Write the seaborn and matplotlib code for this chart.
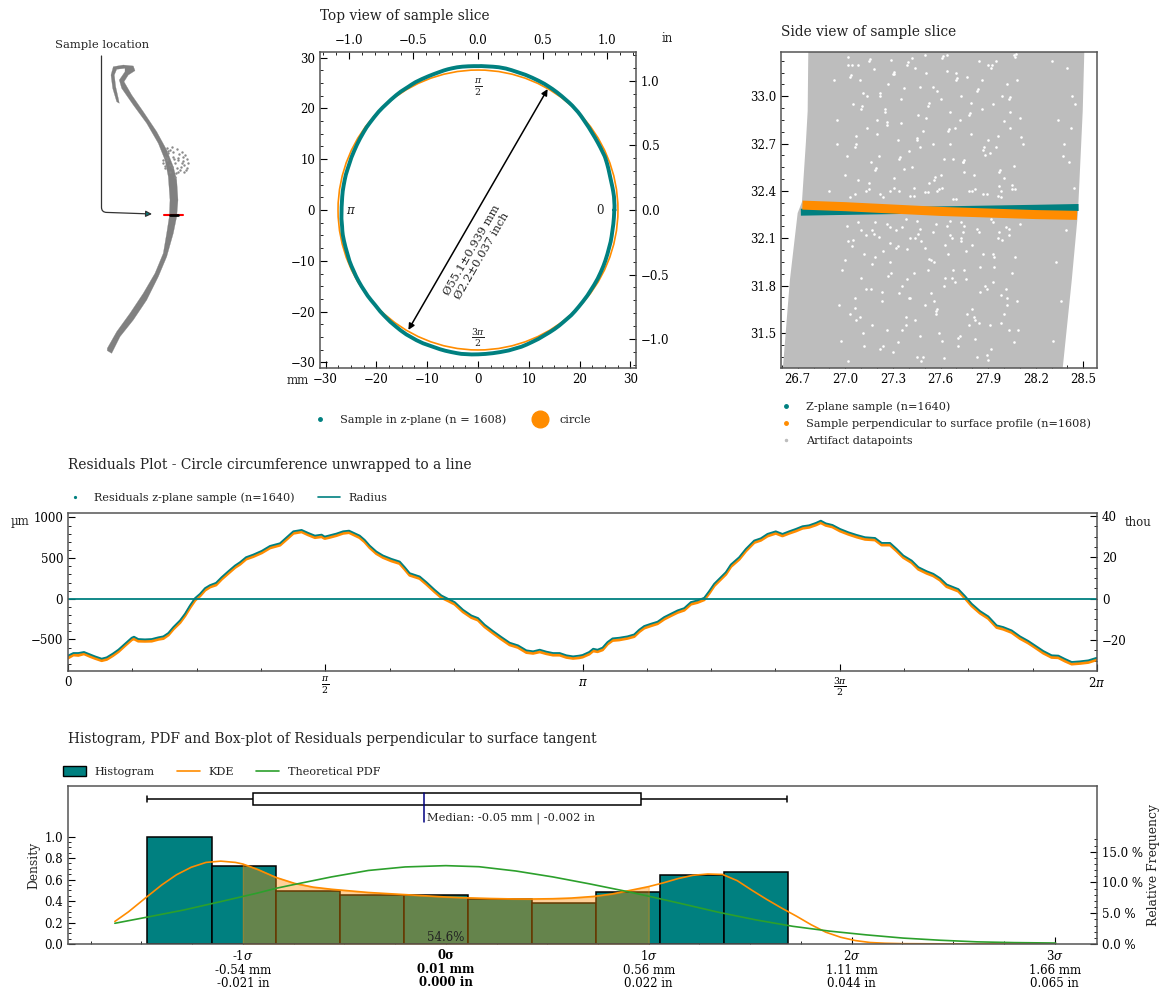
import numpy as np
import matplotlib
matplotlib.use("Agg")
import matplotlib.pyplot as plt
from matplotlib.lines import Line2D
from matplotlib.patches import Patch
from matplotlib.ticker import AutoMinorLocator, FixedLocator
import seaborn as sns

W, H = 1166, 990
TEAL = "#008080"
ORANGE = "#ff8c00"
GREEN = "#2ca02c"
GREY = "#bdbdbd"

# bone outline and its loose dots, left panel
spine_x = [107.3,111.7,120,133.3,146.7,158.3,166.7,173.3,176.7,178,176.7,173.3,166.7,156.7,143.3,131.7,124,128.3,135,133.3,123.3,113.3,111,112.7,116.7,119.3,118.3,115.7,114.3,116.7,125,125,119.3,121.7,133.3,146.7,158.3,165,168.3,170,169.3,166.7,163.3,155,143.3,130,116.7,107.3]
spine_y = [350.7,353.3,336.7,320,300,276.7,256.7,233.3,216.7,200,180,166.7,150,131.7,111.7,95,81.7,75,70.7,66,65,66.7,75,88.3,101.7,103.3,98.3,86.7,75,69.3,68.3,71.7,80,88.3,105,123.3,143.3,160,176.7,200,216.7,233.3,253.3,273.3,293.3,313.3,331.7,348.3]
bump_x = [166.7,171.7,176.7,181.7,185,187.3,188.3,186.7,184,180,175,178.3,181.7,173.3,168.3,165,163.3,165,170,175,171.7,176.7,166.7,170,182.7,184.3,179.3,176,168,172.5,178,183,186,163,164.5,167,169.5,174,180.5,177.5]
bump_y = [148.3,147.3,149.3,151.7,155,159.3,163.3,168.3,172,170,163.3,160,163.3,156.7,153.3,156.7,163.3,168.3,171.7,176.7,166.7,168.3,160,150,156.7,165,154,173.3,151,152,157.5,161,170,160,166,158,165,159,167,172]

# residuals around the circumference
theta = [0,.0326,.0631,.0977,.1343,.1648,.2055,.2361,.2727,.3073,.348,.3887,.4029,.4294,.4701,.5108,.5515,.582,.6125,.6431,.6838,.7143,.7448,.7753,.8059,.8364,.8669,.9035,.9381,.9788,1.0195,1.0501,1.0867,1.1315,1.1823,1.2332,1.2943,1.335,1.3757,1.4265,1.4672,1.5079,1.5486,
         1.5677,1.5983,1.639,1.6797,1.7163,1.7509,1.7814,1.8119,1.8425,1.8832,1.9239,1.9748,2.0256,2.0562,2.0867,2.1478,2.1885,2.2394,2.2801,2.3208,2.3615,2.4124,2.4633,2.504,2.5447,2.5956,2.6464,2.6973,2.7482,2.7991,2.8398,2.8805,2.9212,2.9619,3.0026,3.0433,3.084,3.1206,
         3.1416,3.1823,3.2067,3.2332,3.2637,3.2942,3.3248,3.3655,3.4163,3.457,3.4875,3.5181,3.5588,3.5995,3.6402,3.6809,3.7216,3.7623,3.803,3.8437,3.8844,3.9149,3.9454,3.9861,4.0167,4.0472,4.098,4.1387,4.1896,4.2303,4.271,4.3219,4.3626,4.4033,4.444,4.4847,4.5254,4.5661,4.5966,4.6272,4.6679,
         4.7144,4.7653,4.8162,4.8671,4.9281,4.9688,5.0197,5.0604,5.1011,5.152,5.1927,5.2436,5.2843,5.325,5.3657,5.4369,5.4776,5.5183,5.5692,5.62,5.6709,5.7116,5.7625,5.8134,5.8642,5.9049,5.9558,6.0067,6.0474,6.0881,6.1288,6.1797,6.2305,6.2832]
resid_z = [-699,-667,-667,-654,-683,-708,-736,-720,-675,-626,-552,-479,-466,-495,-499,-495,-474,-462,-421,-348,-266,-184,-82,8,61,131,168,196,266,339,409,450,511,544,589,650,683,757,830,847,810,777,789,
           765,781,802,830,838,806,777,724,654,581,532,491,458,389,315,274,205,110,41,0,-41,-135,-205,-237,-319,-397,-470,-540,-573,-634,-646,-626,-650,-667,-667,-695,-708,-699,
           -691,-654,-614,-626,-601,-532,-487,-479,-462,-438,-380,-335,-307,-282,-225,-184,-143,-115,-41,-20,12,94,184,266,327,421,511,613,716,744,798,830,798,830,859,892,904,933,961,928,908,
           859,818,785,757,748,687,687,613,532,470,389,339,307,254,176,119,33,-61,-151,-217,-327,-348,-389,-462,-519,-573,-642,-695,-699,-740,-777,-769,-757,-724]
resid_perp = [-728,-690,-695,-676,-708,-732,-760,-745,-700,-650,-575,-503,-492,-520,-522,-520,-498,-488,-445,-372,-292,-208,-108,-18,36,106,145,170,242,314,385,425,488,520,565,626,660,732,806,824,786,753,764,
              742,756,778,806,815,782,752,700,630,556,508,466,434,364,290,250,180,86,16,-24,-66,-160,-230,-262,-344,-422,-496,-566,-598,-660,-670,-652,-675,-692,-692,-720,-732,-725,
              -716,-680,-640,-650,-628,-556,-512,-505,-486,-464,-405,-360,-332,-306,-250,-208,-168,-140,-66,-45,-12,68,160,240,302,396,486,588,692,720,772,806,774,806,834,868,880,908,936,904,884,
              834,794,760,732,724,662,662,588,508,445,364,314,282,230,150,94,8,-86,-176,-242,-352,-374,-414,-488,-544,-598,-668,-720,-724,-766,-802,-794,-782,-748]

# side view
artifact_x = [26.767,26.763,26.752,26.727,26.70,26.651,26.607,28.370,28.427,28.466,28.496,28.506]
artifact_y = [33.28,32.905,32.71,32.33,32.26,31.835,31.278,31.278,31.835,32.26,32.905,33.28]
speck_x = [27.02,27.05,27.09,27.14,27.18,27.21,27.25,27.29,27.33,27.37,27.42,27.46,27.51,27.55,27.6,27.64,27.68,27.72,27.77,27.81,27.86,27.9,27.95,27.99,28.04,28.08,
           27.0,27.07,27.11,27.16,27.2,27.27,27.31,27.35,27.4,27.44,27.49,27.53,27.58,27.62,27.66,27.7,27.75,27.79,27.84,27.88,27.93,27.97,28.02,28.06,28.1,
           27.04,27.1,27.13,27.23,27.28,27.32,27.38,27.43,27.48,27.54,27.59,27.65,27.69,27.74,27.8,27.85,27.91,27.96,28.01,28.07,
           26.97,27.06,27.17,27.24,27.3,27.36,27.41,27.47,27.52,27.57,27.63,27.71,27.76,27.82,27.87,27.92,27.98,28.03,28.09,
           26.98,27.03,27.12,27.19,27.26,27.34,27.39,27.45,27.5,27.56,27.61,27.67,27.73,27.78,27.83,27.89,27.94,28.0,28.05,
           28.4,28.43,28.42,28.45,28.38,28.41,28.44,28.37,28.39,28.33,28.36,28.31,28.3,28.34,
           26.93,26.95,26.9,27.02,27.08,27.15,27.22,27.28,27.35,27.43,27.5,27.58,27.66,27.73,27.82,27.9,27.98,28.06,28.12,28.05,27.96,
           27.03,27.035,27.06,27.065,27.1,27.105,27.15,27.155,27.19,27.195,27.22,27.26,27.265,27.3,27.305,27.34,27.345,27.39,27.395,27.45,27.455,27.47,27.52,27.525,27.56,27.565,27.61,27.615,27.65,27.655,27.7,27.705,27.74,27.745,27.78,27.785,27.83,27.835,27.87,27.875,27.92,27.925,27.97,27.975,28.0,28.03,28.035,28.07,28.075,28.11,
           27.02,27.07,27.12,27.16,27.21,27.24,27.29,27.33,27.38,27.41,27.46,27.49,27.54,27.58,27.63,27.67,27.72,27.76,27.81,27.85,27.9,27.94,27.99,28.03,28.08,
           26.96,27.0,27.05,27.09,27.13,27.18,27.22,27.27,27.32,27.36,27.4,27.44,27.48,27.53,27.57,27.62,27.66,27.71,27.75,27.8,27.84,27.89,27.93,27.97,28.02,28.06,
           26.95,27.01,27.04,27.08,27.14,27.2,27.25,27.31,27.37,27.42,27.47,27.51,27.55,27.6,27.64,27.69,27.74,27.79,27.86,27.91,27.95,28.0,28.04,
           27.02,27.06,27.11,27.17,27.23,27.28,27.33,27.39,27.44,27.5,27.56,27.62,27.68,27.73,27.77,27.82,27.88,27.93,27.98,28.02,
           27.01,27.06,27.1,27.15,27.19,27.24,27.28,27.34,27.38,27.43,27.47,27.52,27.57,27.61,27.66,27.7,27.75,27.8,27.84,27.89,27.93,27.98,28.03,28.07,
           27.03,27.08,27.13,27.17,27.22,27.26,27.31,27.36,27.41,27.45,27.5,27.55,27.59,27.64,27.68,27.73,27.78,27.83,27.87,27.92,27.96,28.01,28.05,28.1]
speck_y = [33.2,32.95,33.1,32.8,33.17,32.62,32.9,33.23,32.72,33.05,32.55,32.88,33.15,32.7,32.98,33.26,32.6,32.85,33.12,32.5,32.92,33.2,32.68,33.0,32.8,33.1,
           32.5,32.75,33.02,32.58,32.85,33.08,32.48,32.98,32.65,33.18,32.78,32.45,33.03,32.6,32.9,33.15,32.52,32.76,33.22,32.63,32.95,32.43,33.08,32.56,32.86,
           32.05,31.85,32.12,31.7,31.95,32.15,31.6,31.88,32.08,31.75,31.5,32.0,31.82,32.14,31.65,31.92,31.55,32.1,31.78,31.98,
           31.45,31.72,31.55,32.02,31.38,31.8,32.1,31.48,31.9,31.62,32.06,31.42,31.84,31.58,32.0,31.4,31.74,32.12,31.52,
           31.9,31.62,31.42,31.98,31.52,31.75,32.03,31.35,31.68,31.95,31.45,31.85,32.08,31.55,31.35,31.78,31.98,31.62,31.88,
           33.18,33.0,32.8,32.95,32.7,32.58,32.42,32.62,32.15,31.95,31.7,31.45,33.22,32.85,
           33.1,32.7,32.4,33.25,33.2,32.45,33.0,32.4,32.83,32.42,33.26,32.4,32.7,33.0,32.41,32.72,32.4,33.26,32.7,32.44,32.75,
           33.12,33.135,32.68,32.695,32.92,32.935,33.22,33.235,32.53,32.545,33.02,32.82,32.835,33.14,33.155,32.6,32.615,33.2,33.215,32.72,32.735,33.06,32.94,32.955,32.47,32.485,33.24,33.255,32.78,32.795,33.1,33.115,32.58,32.595,32.88,32.895,33.03,33.045,32.66,32.675,33.18,33.195,32.52,32.535,32.84,32.98,32.995,33.25,33.265,32.74,
           32.08,31.58,32.0,31.78,32.11,31.42,31.88,32.05,31.55,31.72,32.13,31.35,31.96,31.65,31.85,32.1,31.48,32.02,31.6,31.76,31.33,31.92,32.09,31.52,31.7,
           31.68,31.96,32.09,31.6,31.78,32.13,31.4,31.86,32.04,31.52,31.72,32.1,31.32,31.97,31.64,31.8,32.12,31.47,31.9,32.06,31.56,31.36,31.82,32.14,31.68,31.44,
           32.85,32.62,33.2,32.47,33.0,32.76,32.92,33.14,32.54,33.24,32.68,32.86,33.06,32.5,33.16,32.8,32.58,32.96,33.1,32.64,33.22,32.48,32.9,
           31.32,31.66,31.5,31.94,31.76,32.07,31.44,31.84,31.58,32.04,31.7,31.34,31.9,32.1,31.62,31.46,31.8,32.0,31.56,31.72,
           32.18,32.38,32.15,32.41,32.2,32.36,32.17,32.4,32.22,32.37,32.16,32.39,32.19,32.42,32.21,32.35,32.18,32.4,32.14,32.38,32.2,32.36,32.16,32.41,
           32.36,32.2,32.4,32.15,32.38,32.19,32.42,32.17,32.37,32.21,32.39,32.14,32.41,32.18,32.35,32.2,32.4,32.16,32.38,32.22,32.37,32.17,32.41,32.19]
band_orange_x = [26.73,27.0,27.3,27.6,27.9,28.2,28.46]
band_orange_y = [32.31,32.30,32.285,32.27,32.26,32.25,32.245]
band_teal_x = [26.72,27.0,27.3,27.6,27.9,28.2,28.47]
band_teal_y = [32.265,32.27,32.275,32.28,32.285,32.29,32.295]

# histogram panel
bin_edges = [-0.799,-0.625,-0.451,-0.278,-0.104,0.070,0.243,0.417,0.591,0.764,0.938]
bin_heights = [1.0,0.73,0.494,0.457,0.46,0.423,0.379,0.488,0.643,0.668]
kde_x = [-0.887,-0.85,-0.80,-0.76,-0.72,-0.68,-0.64,-0.60,-0.56,-0.54,-0.50,-0.45,-0.40,-0.35,-0.30,-0.25,-0.20,-0.15,-0.10,-0.05,0.01,0.07,0.13,0.19,0.24,0.30,0.35,0.41,0.46,0.51,0.56,0.60,0.64,0.68,0.72,0.76,0.80,0.84,0.88,0.92,0.96,1.0,1.04,1.08,1.12,1.16,1.2,1.25,1.39,1.663]
kde_y = [0.21,0.30,0.44,0.55,0.645,0.715,0.76,0.772,0.76,0.745,0.695,0.62,0.565,0.53,0.51,0.495,0.48,0.47,0.46,0.45,0.438,0.43,0.424,0.42,0.419,0.422,0.428,0.443,0.466,0.50,0.535,0.57,0.61,0.64,0.652,0.648,0.59,0.50,0.415,0.335,0.26,0.18,0.11,0.063,0.032,0.014,0.007,0.003,0.001,0.0]
pdf_x = [-0.887,-0.8,-0.7,-0.6,-0.5,-0.45,-0.4,-0.3,-0.2,-0.1,0.01,0.1,0.2,0.3,0.4,0.5,0.56,0.65,0.75,0.85,0.95,1.05,1.15,1.25,1.35,1.45,1.55,1.663]
pdf_y = [0.193,0.25,0.317,0.395,0.475,0.519,0.555,0.625,0.685,0.718,0.73,0.72,0.68,0.625,0.56,0.49,0.445,0.375,0.295,0.225,0.165,0.12,0.085,0.055,0.035,0.02,0.013,0.009]
box_values = [-0.799,-0.512,-0.05,0.539,0.935]
sigma_ticks = [-0.54,0.01,0.56,1.11,1.66]
sigma_labels = ["-1$\\sigma$\n-0.54 mm\n-0.021 in", "0σ\n0.01 mm\n0.000 in", "1$\\sigma$\n0.56 mm\n0.022 in",
                "2$\\sigma$\n1.11 mm\n0.044 in", "3$\\sigma$\n1.66 mm\n0.065 in"]

RADIUS = 27.55


def px_axes(left, top, right, bottom):
    return fig.add_axes([left / W, 1 - bottom / H, (right - left) / W, (bottom - top) / H])


def fig_text(x, y, s, **kw):
    fig.text(x / W, 1 - y / H, s, **kw)


sns.set_style("ticks")
plt.rcParams.update({
    "font.family": "DejaVu Serif",
    "mathtext.fontset": "dejavuserif",
    "font.size": 8.5,
    "axes.edgecolor": "#555555",
    "axes.linewidth": 1.1,
    "xtick.direction": "in",
    "ytick.direction": "in",
    "xtick.color": "black",
    "ytick.color": "black",
    "xtick.labelsize": 8.5,
    "ytick.labelsize": 8.5,
    "xtick.major.size": 5,
    "ytick.major.size": 5,
    "xtick.minor.size": 2.5,
    "ytick.minor.size": 2.5,
    "text.color": "#222222",
})

fig = plt.figure(figsize=(W / 100, H / 100), dpi=100)
TITLE = dict(fontsize=9.87, ha="left", va="center")
LEG = dict(frameon=False, fontsize=8.15, borderaxespad=0, handletextpad=0.75)

# --- sample location
ax = px_axes(0, 0, 300, 380)
ax.fill(spine_x, spine_y, color="#808080", lw=0.2)
sns.scatterplot(x=bump_x, y=bump_y, s=3, color="#8a8a8a", linewidth=0, ax=ax, legend=False)
ax.plot([164, 183], [215, 215], color="red", lw=1.5)
ax.plot([169.5, 178], [215, 215], color="black", lw=2)
ax.annotate("", xy=(152, 214), xytext=(101.5, 56),
            arrowprops=dict(arrowstyle="-|>", connectionstyle="angle,angleA=-90,angleB=-2,rad=5",
                            fc=TEAL, ec="#333333", lw=0.9, shrinkA=0, shrinkB=0, mutation_scale=9))
ax.text(102, 45, "Sample location", fontsize=8.25, ha="center", va="center")
ax.set_xlim(0, 300)
ax.set_ylim(380, 0)
ax.axis("off")

# --- top view
ax = px_axes(320, 52, 636, 368)
th = np.array(theta)
r = RADIUS + np.array(resid_z) / 1000
sx = np.append(r * np.cos(th), r[0])
sy = np.append(r * np.sin(th), 0)
sns.lineplot(x=sx, y=sy, sort=False, estimator=None, color=TEAL, lw=2.8, ax=ax, legend=False)
ax.add_patch(plt.Circle((0, 0), RADIUS, fill=False, ec=ORANGE, lw=1.2))
ax.annotate("", xy=(13.7, 23.8), xytext=(-13.7, -23.6),
            arrowprops=dict(arrowstyle="<|-|>", color="black", lw=1.1, shrinkA=0, shrinkB=0, mutation_scale=9))
ax.text(-0.3, -8.4, "Ø55.1±0.939 mm\nØ2.2±0.037 inch", rotation=60, fontsize=8.2, ha="center", va="center",
        multialignment="center", rotation_mode="anchor")
ax.text(0, 24, r"$\frac{\pi}{2}$", ha="center", va="center", fontsize=9.5)
ax.text(24.1, 0, "0", ha="center", va="center")
ax.text(-24.9, 0, r"$\pi$", ha="center", va="center")
ax.text(0, -25.1, r"$\frac{3\pi}{2}$", ha="center", va="center", fontsize=9.5)
ax.set_xlim(-31.1, 31.1)
ax.set_ylim(-31.1, 31.1)
ax.set_xticks([-30, -20, -10, 0, 10, 20, 30])
ax.set_yticks([-30, -20, -10, 0, 10, 20, 30])
ax.xaxis.set_minor_locator(AutoMinorLocator(4))
ax.yaxis.set_minor_locator(AutoMinorLocator(4))
ax.set_xlabel("")
ax.set_ylabel("")
top = ax.secondary_xaxis("top", functions=(lambda v: v / 25.4, lambda v: v * 25.4))
right = ax.secondary_yaxis("right", functions=(lambda v: v / 25.4, lambda v: v * 25.4))
for sec in (top, right):
    sec.set_ticks([-1, -0.5, 0, 0.5, 1])
    sec.minorticks_on()
    sec.spines[:].set_visible(False)
top.xaxis.set_minor_locator(AutoMinorLocator(5))
right.yaxis.set_minor_locator(AutoMinorLocator(5))
ax.legend(handles=[Line2D([], [], ls="", marker="o", ms=2.5, color=TEAL, label="Sample in z-plane (n = 1608)"),
                   Line2D([], [], ls="", marker="o", ms=12, color=ORANGE, label="circle")],
          loc="center left", bbox_to_anchor=(-0.051, -0.165), ncol=2, columnspacing=2.0, **LEG)
fig_text(320, 16, "Top view of sample slice", **TITLE)
fig_text(298, 380, "mm", ha="center", va="center")
fig_text(667, 38, "in", ha="center", va="center")

# --- side view
ax = px_axes(781, 52, 1097, 368)
ax.fill(artifact_x, artifact_y, color=GREY, lw=0)
sns.scatterplot(x=speck_x, y=speck_y, s=3.5, color="white", linewidth=0, ax=ax, legend=False)
sns.lineplot(x=band_teal_x, y=band_teal_y, estimator=None, color=TEAL, lw=5, solid_capstyle="butt", ax=ax, legend=False)
sns.lineplot(x=band_orange_x, y=band_orange_y, estimator=None, color=ORANGE, lw=6.5, solid_capstyle="butt", ax=ax, legend=False)
ax.set_xlim(26.595, 28.586)
ax.set_ylim(31.278, 33.28)
ax.set_xticks([26.7, 27.0, 27.3, 27.6, 27.9, 28.2, 28.5])
ax.set_yticks([31.5, 31.8, 32.1, 32.4, 32.7, 33.0])
ax.xaxis.set_minor_locator(AutoMinorLocator(3))
ax.yaxis.set_minor_locator(AutoMinorLocator(4))
ax.set_xlabel("")
ax.set_ylabel("")
ax.legend(handles=[Line2D([], [], ls="", marker="o", ms=2.5, color=TEAL, label="Z-plane sample (n=1640)"),
                   Line2D([], [], ls="", marker="o", ms=2.5, color=ORANGE, label="Sample perpendicular to surface profile (n=1608)"),
                   Line2D([], [], ls="", marker="o", ms=1.5, color=GREY, label="Artifact datapoints")],
          loc="upper left", bbox_to_anchor=(-0.033, -0.09), labelspacing=0.6, **LEG)
fig_text(781, 32, "Side view of sample slice", **TITLE)

# --- residuals
ax = px_axes(68, 513, 1097, 671)
sns.lineplot(x=theta, y=resid_perp, estimator=None, color=ORANGE, lw=2.2, ax=ax, legend=False)
sns.lineplot(x=theta, y=resid_z, estimator=None, color=TEAL, lw=1.3, ax=ax, legend=False)
ax.axhline(0, color=TEAL, lw=1.3)
ax.set_xlim(0, 2 * np.pi)
ax.set_ylim(-888, 1055)
ax.set_xticks(np.pi / 2 * np.arange(5))
ax.set_xticklabels(["0", r"$\frac{\pi}{2}$", r"$\pi$", r"$\frac{3\pi}{2}$", r"$2\pi$"])
for lab in (ax.get_xticklabels()[1], ax.get_xticklabels()[3]):
    lab.set_fontsize(9.5)
ax.xaxis.set_minor_locator(AutoMinorLocator(4))
ax.set_yticks([-500, 0, 500, 1000])
ax.yaxis.set_minor_locator(AutoMinorLocator(5))
ax.set_xlabel("")
ax.set_ylabel("")
right = ax.secondary_yaxis("right", functions=(lambda v: v / 25.4, lambda v: v * 25.4))
right.set_yticks([-20, 0, 20, 40])
right.yaxis.set_minor_locator(AutoMinorLocator(4))
right.spines[:].set_visible(False)
ax.legend(handles=[Line2D([], [], ls="", marker="o", ms=1.3, color=TEAL, label="Residuals z-plane sample (n=1640)"),
                   Line2D([], [], color=TEAL, lw=1.2, label="Radius")],
          loc="center left", bbox_to_anchor=(-0.009, 1.095), ncol=2, columnspacing=2.0, **LEG)
fig_text(68, 465, "Residuals Plot - Circle circumference unwrapped to a line", **TITLE)
fig_text(20, 522, "µm", ha="center", va="center")
fig_text(1138, 522, "thou", ha="center", va="center")

# --- histogram, kde, box
ax = px_axes(68, 786, 1097, 944)
centers = [(a + b) / 2 for a, b in zip(bin_edges[:-1], bin_edges[1:])]
sns.histplot(x=centers, weights=bin_heights, bins=bin_edges, color=TEAL, alpha=1, edgecolor="black", linewidth=1.1, ax=ax)
kx, ky = np.array(kde_x), np.array(kde_y)
inside = (kx >= -0.54) & (kx <= 0.56)
ax.fill_between(kx[inside], ky[inside], color=ORANGE, alpha=0.4)
sns.lineplot(x=kde_x, y=kde_y, estimator=None, color=ORANGE, lw=1.2, ax=ax, legend=False)
sns.lineplot(x=pdf_x, y=pdf_y, estimator=None, color=GREEN, lw=1.2, ax=ax, legend=False)
sns.boxplot(x=box_values, y=[1.348] * 5, orient="h", native_scale=True, width=0.112, whis=(0, 100), color="white",
            linecolor="black", linewidth=1.1, saturation=1, showfliers=False, medianprops=dict(color="white", lw=0), ax=ax)
ax.plot([box_values[2], box_values[2]], [1.14, 1.407], color="navy", lw=1.1)
ax.text(-0.04, 1.174, "Median: -0.05 mm | -0.002 in", fontsize=8.2, ha="left", va="center")
ax.text(0.01, 0.056, "54.6%", ha="center", va="center")
ax.set_xlim(-1.014, 1.775)
ax.set_ylim(0, 1.472)
ax.set_xticks(sigma_ticks)
ax.set_xticklabels(sigma_labels, linespacing=1.08)
ax.get_xticklabels()[1].set_fontweight("bold")
ax.xaxis.set_minor_locator(FixedLocator(np.arange(-7, 13) * 0.1375 + 0.01))
ax.set_yticks([0, 0.2, 0.4, 0.6, 0.8, 1.0])
ax.yaxis.set_minor_locator(FixedLocator(np.arange(1, 21) * 0.05))
ax.set_xlabel("")
ax.set_ylabel("Density", fontsize=8.8)
ax.yaxis.set_label_coords(-0.0272, 0.5)
right = ax.secondary_yaxis("right", functions=(lambda v: v * 17.45, lambda v: v / 17.45))
right.set_yticks([0, 5, 10, 15])
right.set_yticklabels(["0.0 %", "5.0 %", "10.0 %", "15.0 %"])
right.yaxis.set_minor_locator(FixedLocator(np.arange(1, 18)))
right.spines[:].set_visible(False)
fig_text(1153, 865, "Relative Frequency", rotation=90, ha="center", va="center", fontsize=8.9)
ax.legend(handles=[Patch(fc=TEAL, ec="black", label="Histogram"),
                   Line2D([], [], color=ORANGE, lw=1.2, label="KDE"),
                   Line2D([], [], color=GREEN, lw=1.2, label="Theoretical PDF")],
          loc="center left", bbox_to_anchor=(-0.009, 1.09), ncol=3, columnspacing=2.0, handleheight=0.9, **LEG)
fig_text(68, 739, "Histogram, PDF and Box-plot of Residuals perpendicular to surface tangent", **TITLE)

fig.savefig("out.png", dpi=100)
